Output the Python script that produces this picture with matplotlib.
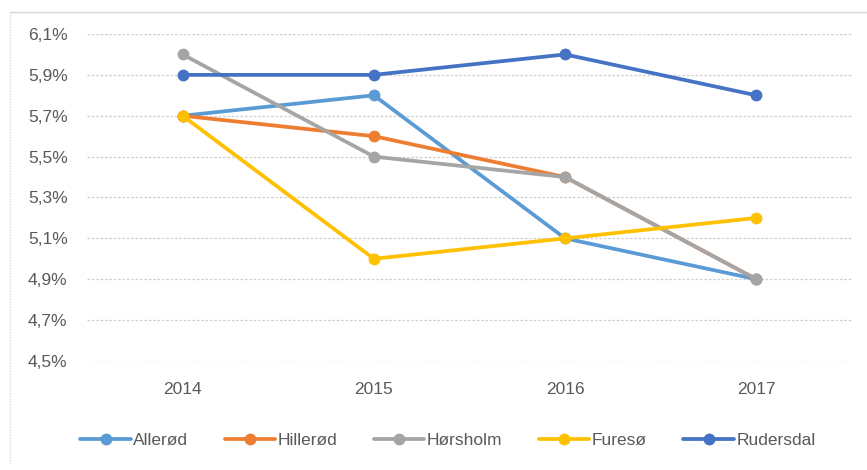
import matplotlib
matplotlib.use("Agg")
import matplotlib.pyplot as plt
from matplotlib.lines import Line2D

years = ["2014", "2015", "2016", "2017"]
allerod = [5.7, 5.8, 5.1, 4.9]
hillerod = [5.7, 5.6, 5.4, 4.9]
horsholm = [6.0, 5.5, 5.4, 4.9]
fureso = [5.7, 5.0, 5.1, 5.2]
rudersdal = [5.9, 5.9, 6.0, 5.8]
series_names = ["Allerød", "Hillerød", "Hørsholm", "Furesø", "Rudersdal"]
series_values = [allerod, hillerod, horsholm, fureso, rudersdal]
colors = ["#5B9BD5", "#ED7D31", "#A5A5A5", "#FFC000", "#4472C4"]
yticks = [4.5, 4.7, 4.9, 5.1, 5.3, 5.5, 5.7, 5.9, 6.1]

plt.rcParams['font.family'] = ['Liberation Sans', 'DejaVu Sans']
FS = 12.5

W, H = 867, 470
fig = plt.figure(figsize=(W/100, H/100), dpi=100)
ax = fig.add_axes([87/W, 1-361/H, (852-87)/W, (361-34)/H])

x = list(range(len(years)))
handles = []
for name, vals, c in zip(series_names, series_values, colors):
    ln, = ax.plot(x, vals, color=c, lw=2.7, marker='o', markersize=7.5,
                  solid_capstyle='round', label=name, zorder=3)
    handles.append(ln)

ax.set_xlim(-0.5, len(years)-0.5)
ax.set_ylim(4.5, 6.1)
ax.set_yticks(yticks)
ax.set_yticklabels([f"{v:.1f}%".replace('.', ',') for v in yticks])
ax.set_xticks(x)
ax.set_xticklabels(years)
ax.tick_params(axis='both', length=0, labelsize=FS, colors='#595959')
ax.tick_params(axis='y', pad=14)
ax.tick_params(axis='x', pad=15)
for s in ax.spines.values():
    s.set_visible(False)
ax.grid(axis='y', color='#CFCFCF', lw=0.9, ls=(0, (2, 1.5)), zorder=0)
ax.set_axisbelow(True)

leg = fig.legend(handles=handles, loc='center', bbox_to_anchor=(448/W, 1-440/H),
                 ncol=5, frameon=False, fontsize=FS, handlelength=2.9,
                 handletextpad=0.15, columnspacing=2.1, labelcolor='#595959')

# chart area border (top and left)
fig.add_artist(Line2D([10/W, 1], [1-12/H, 1-12/H], color='#D9D9D9', lw=1))
fig.add_artist(Line2D([10/W, 10/W], [1-12/H, 1-463/H], color='#D9D9D9', lw=1, ls=(0, (1, 1))))

fig.savefig("out.png", dpi=100)
